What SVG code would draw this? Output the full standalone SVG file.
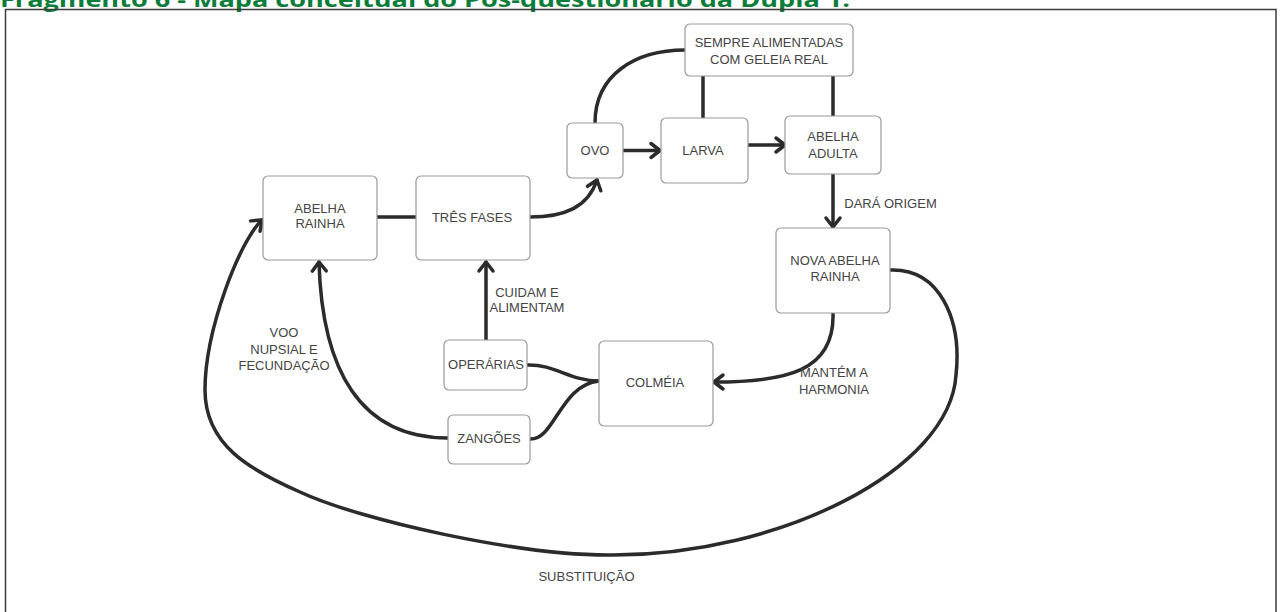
<svg xmlns="http://www.w3.org/2000/svg" width="1281" height="612" viewBox="0 0 1281 612">
<style>
.node rect{fill:#fff;stroke:#9a9a9a;stroke-width:1.2}
.node text,.lbl{font-family:"Liberation Sans",Arial,sans-serif;font-size:13px;fill:#444;text-anchor:middle}
.conn path{fill:none;stroke:#2b2b2b;stroke-width:3.5;stroke-linecap:round;stroke-linejoin:round}
.title{font-family:"Open Sans","Liberation Sans",sans-serif;font-weight:700;font-size:21px;fill:#0b7d3a}
</style>
<defs>
<marker id="arr" markerUnits="userSpaceOnUse" orient="auto" overflow="visible" markerWidth="1" markerHeight="1" refX="0" refY="0">
<path d="M -9 -7 L 0 0 L -9 7" fill="none" stroke="#2b2b2b" stroke-width="3.5" stroke-linecap="round" stroke-linejoin="round"/>
</marker>
</defs>
<rect width="1281" height="612" fill="#fff"/>
<text class="title" x="0" y="7" textLength="850" lengthAdjust="spacingAndGlyphs">Fragmento 6 - Mapa conceitual do Pós-questionário da Dupla 1.</text>
<rect x="5.5" y="9.5" width="1270.5" height="620" fill="none" stroke="#3c3c3c" stroke-width="1.5"/>

<g class="conn" id="connectors">
<path d="M 377 217 L 416 217"/>
<path d="M 530 217 C 565 217, 588 207, 597 180" marker-end="url(#arr)"/>
<path d="M 623 150.5 L 660 150.5" marker-end="url(#arr)"/>
<path d="M 748 145 L 785 145" marker-end="url(#arr)"/>
<path d="M 595 123 C 595 75, 635 50, 685 50"/>
<path d="M 703 76 L 703 118"/>
<path d="M 833 76 L 833 116"/>
<path d="M 833 174 L 833 227" marker-end="url(#arr)"/>
<path d="M 833 313 C 835 372, 785 382, 714 382" marker-end="url(#arr)"/>
<path d="M 486 340 L 486 262" marker-end="url(#arr)"/>
<path d="M 527 365 C 555 364, 570 381, 599 381"/>
<path d="M 530 439 C 555 440, 560 385, 599 381"/>
<path d="M 448 438 C 360 438, 322 370, 319 262" marker-end="url(#arr)"/>
<path d="M 890 270 C 940 268, 962 320, 956 375 C 950 470, 780 555, 613 555 C 520 556, 360 520, 300 492 C 250 470, 205 445, 205 390 C 205 330, 240 240, 262 220" marker-end="url(#arr)"/>
</g>

<g class="node" id="abelha-rainha"><rect x="263" y="176" width="114" height="84" rx="5"/><text x="320" y="212.5">ABELHA</text><text x="320" y="227.5">RAINHA</text></g>
<g class="node" id="tres-fases"><rect x="416" y="176" width="114" height="84" rx="5"/><text x="472" y="221.5">TRÊS FASES</text></g>
<g class="node" id="ovo"><rect x="567" y="123" width="56" height="55" rx="5"/><text x="595" y="154.5">OVO</text></g>
<g class="node" id="larva"><rect x="661" y="118" width="87" height="65" rx="5"/><text x="703" y="154.5">LARVA</text></g>
<g class="node" id="abelha-adulta"><rect x="785" y="116" width="96" height="58" rx="5"/><text x="833" y="140.5">ABELHA</text><text x="833" y="157.5">ADULTA</text></g>
<g class="node" id="sempre"><rect x="685" y="24" width="168" height="52" rx="5"/><text x="769" y="46.8">SEMPRE ALIMENTADAS</text><text x="769" y="63.5">COM GELEIA REAL</text></g>
<g class="node" id="nova-abelha-rainha"><rect x="776" y="228" width="114" height="85" rx="5"/><text x="835" y="264.5">NOVA ABELHA</text><text x="835" y="280.5">RAINHA</text></g>
<g class="node" id="colmeia"><rect x="599" y="341" width="114" height="85" rx="5"/><text x="655" y="386.5">COLMÉIA</text></g>
<g class="node" id="operarias"><rect x="444" y="340" width="83" height="50" rx="5"/><text x="486" y="368.5">OPERÁRIAS</text></g>
<g class="node" id="zangoes"><rect x="448" y="415" width="82" height="49" rx="5"/><text x="489" y="442.5">ZANGÕES</text></g>

<g id="labels">
<text class="lbl" x="527" y="296.5">CUIDAM E</text>
<text class="lbl" x="527" y="311.5">ALIMENTAM</text>
<text class="lbl" x="284" y="337">VOO</text>
<text class="lbl" x="284" y="354">NUPSIAL E</text>
<text class="lbl" x="284" y="370">FECUNDAÇÃO</text>
<text class="lbl" x="890.5" y="208">DARÁ ORIGEM</text>
<text class="lbl" x="834" y="377">MANTÉM A</text>
<text class="lbl" x="834" y="393.5">HARMONIA</text>
<text class="lbl" x="586.5" y="580.5">SUBSTITUIÇÃO</text>
</g>
</svg>
